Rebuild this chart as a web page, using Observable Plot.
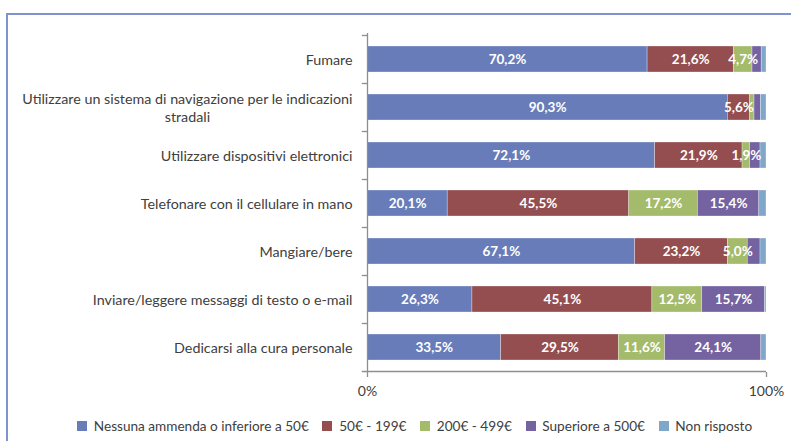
<!DOCTYPE html>
<html>
<head>
<meta charset="utf-8">
<script src="https://cdn.jsdelivr.net/npm/d3@7"></script>
<script src="https://cdn.jsdelivr.net/npm/@observablehq/plot@0.6"></script>
<style>
  html, body { margin: 0; padding: 0; background: #fff; overflow: hidden; }
  #wrap { position: relative; width: 791px; height: 441px; overflow: hidden; font-family: Lato, sans-serif; }
  #frame { position: absolute; left: 6px; top: 13px; width: 900px; height: 600px;
           border-left: 2px solid #7f93cf; border-top: 2px solid #7f93cf; box-sizing: border-box; }
  #chart { position: absolute; left: 0; top: 0; }
  #legend { position: absolute; left: 77px; top: 409px; width: 712px; white-space: nowrap; }
  #legend > div { flex-wrap: nowrap !important; }
</style>
</head>
<body>
<div id="wrap">
  <div id="frame"></div>
  <div id="chart"></div>
  <div id="legend"></div>
</div>
<script>
const categories = [
  "Fumare",
  "Utilizzare un sistema di navigazione per le indicazioni\nstradali",
  "Utilizzare dispositivi elettronici",
  "Telefonare con il cellulare in mano",
  "Mangiare/bere",
  "Inviare/leggere messaggi di testo o e-mail",
  "Dedicarsi alla cura personale"
];
const seriesNames = ["Nessuna ammenda o inferiore a 50€", "50€ - 199€", "200€ - 499€", "Superiore a 500€", "Non risposto"];
const seriesColors = ["#687cba", "#954e50", "#a4bb6b", "#7462a1", "#7fa7c9"];

const nessuna      = [70.2, 90.3, 72.1, 20.1, 67.1, 26.3, 33.5];
const da50a199     = [21.6,  5.6, 21.9, 45.5, 23.2, 45.1, 29.5];
const da200a499    = [ 4.7,  1.1,  1.9, 17.2,  5.0, 12.5, 11.6];
const superiore500 = [ 2.3,  1.6,  2.6, 15.4,  3.2, 15.7, 24.1];
const nonRisposto  = [ 1.2,  1.4,  1.5,  1.8,  1.5,  0.4,  1.3];

// which segment values carry a printed label in the original
const showNessuna = [true, true, true, true, true, true, true];
const show50      = [true, true, true, true, true, true, true];
const show200     = [true, false, true, true, true, true, true];
const showSup     = [false, false, false, true, false, true, true];
const showNR      = [false, false, false, false, false, false, false];

const xTicks = [0, 100];

const allSeries = [nessuna, da50a199, da200a499, superiore500, nonRisposto];
const allShow = [showNessuna, show50, show200, showSup, showNR];
const data = [];
categories.forEach((c, i) => {
  seriesNames.forEach((s, j) => {
    data.push({cat: c, series: s, value: allSeries[j][i], show: allShow[j][i]});
  });
});

const fmt = v => v.toFixed(1).replace(".", ",") + "%";
const axisGray = "#8e8e8e";

const base = {
  width: 791,
  height: 405,
  marginLeft: 367,
  marginRight: 25,
  marginTop: 33,
  marginBottom: 33,
  style: {fontFamily: "Lato, sans-serif", background: "transparent"},
  x: {domain: [0, 100]},
  y: {domain: categories, padding: 0},
  color: {domain: seriesNames, range: seriesColors}
};

// probe the band scale for its bandwidth
const probe = Plot.plot({...base, marks: [Plot.barX(data, {x: "value", y: "cat"})]});
const bw = probe.scale("y").bandwidth;

const chart = Plot.plot({
  ...base,
  marks: [
    Plot.barX(data, {
      x: "value", y: "cat", fill: "series",
      insetTop: 11, insetBottom: 11,
      stroke: "white", strokeOpacity: 0.5, strokeWidth: 0.6
    }),
    Plot.text(data, Plot.stackX({
      x: "value", y: "cat", z: "series",
      text: d => d.show ? fmt(d.value) : "",
      fill: "white", fontWeight: "bold", fontSize: 13.5
    })),
    Plot.ruleX([0], {stroke: axisGray, strokeWidth: 1.3}),
    Plot.ruleY(categories, {y: d => d, dy: -bw / 2, x1: -1.3, x2: 0, stroke: axisGray, strokeWidth: 1.3}),
    Plot.ruleY([categories[categories.length - 1]], {y: d => d, dy: bw / 2, x1: -1.3, x2: 100, stroke: axisGray, strokeWidth: 1.3}),
    Plot.axisY({tickSize: 0, tickPadding: 15, fontSize: 14.3, fill: "#404040", lineHeight: 1.2, label: null}),
    Plot.axisX({ticks: xTicks, tickFormat: d => d + "%", tickSize: 5, tickPadding: 9, fontSize: 14,
                fill: "#404040", stroke: axisGray, strokeWidth: 1.3, label: null})
  ]
});
document.getElementById("chart").appendChild(chart);

// center the lines of multi-line category labels (as in the original)
chart.querySelectorAll('[aria-label="y-axis tick label"] text').forEach(t => {
  const spans = t.querySelectorAll("tspan");
  if (spans.length > 1) {
    const w = t.getBBox().width;
    t.setAttribute("text-anchor", "middle");
    spans.forEach(s => s.setAttribute("x", -w / 2));
  }
});

const legend = Plot.legend({
  color: {domain: seriesNames, range: seriesColors},
  legend: "swatches",
  swatchSize: 10,
  style: {fontFamily: "Lato, sans-serif", fontSize: "13.6px", color: "#404040"}
});
document.getElementById("legend").appendChild(legend);
</script>
</body>
</html>
